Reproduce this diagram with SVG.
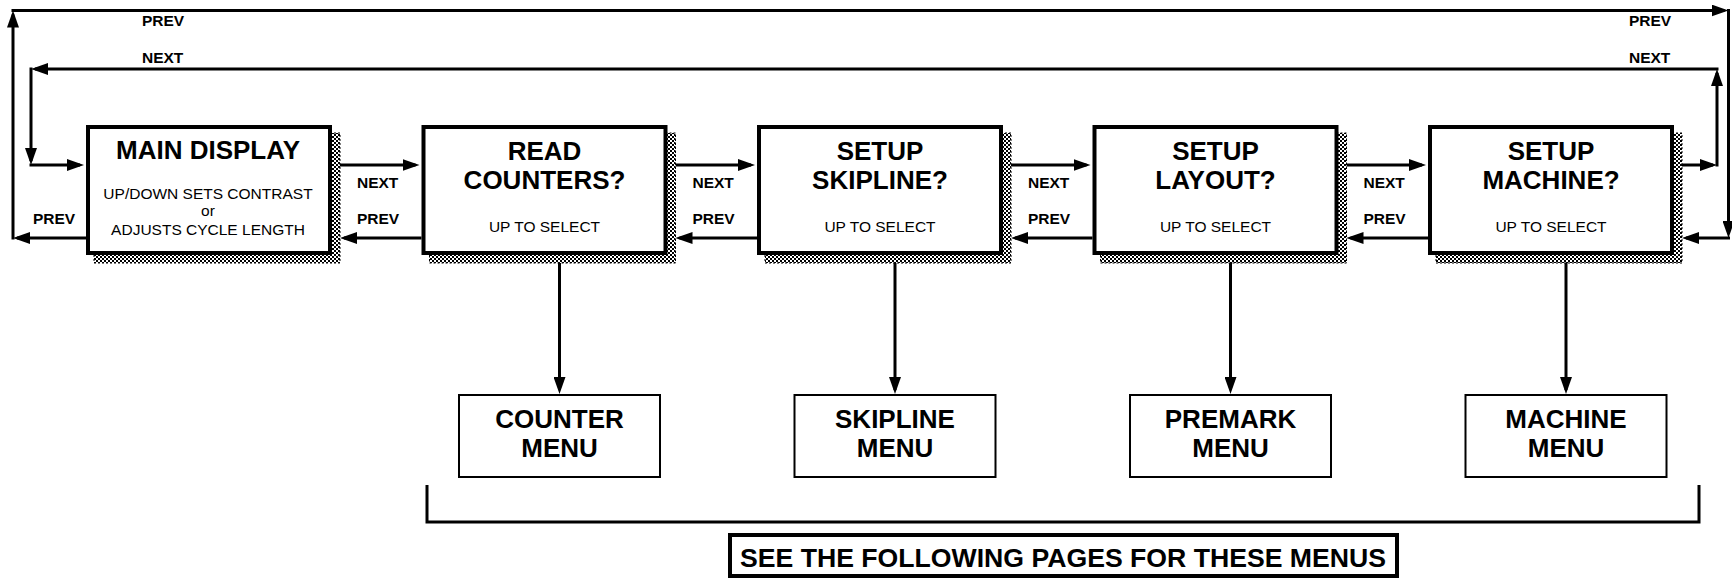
<svg xmlns="http://www.w3.org/2000/svg" xmlns:xlink="http://www.w3.org/1999/xlink" width="1732" height="579" viewBox="0 0 1732 579">
<style>
.bx{fill:#fff;stroke:#000;stroke-width:4}
.mn{fill:#fff;stroke:#000;stroke-width:2}
.sh{fill:url(#chk);stroke:#000;stroke-width:1;stroke-dasharray:2 2}
.ln{stroke:#000;stroke-width:3;fill:none;marker-end:url(#ah)}
.t{font-family:"Liberation Sans",Arial,sans-serif;font-weight:bold;font-size:26px;text-anchor:middle;fill:#000}
.s{font-family:"Liberation Sans",Arial,sans-serif;font-size:15.5px;text-anchor:middle;fill:#000}
.l{font-family:"Liberation Sans",Arial,sans-serif;font-weight:bold;font-size:15.5px;fill:#000}
</style>
<defs>
<pattern id="chk" patternUnits="userSpaceOnUse" width="4" height="4">
<rect width="4" height="4" fill="#fff"/>
<rect width="2" height="2" fill="#000"/>
<rect x="2" y="2" width="2" height="2" fill="#000"/>
</pattern>
<marker id="ah" markerUnits="userSpaceOnUse" viewBox="0 0 17 12" refX="13" refY="6" markerWidth="17" markerHeight="12" orient="auto">
<path d="M0,0 L17,6 L0,12 z" fill="#000"/>
</marker>
</defs>
<rect width="1732" height="579" fill="#fff"/>

<g id="connectors">
<!-- between boxes NEXT -->
<line class="ln" x1="340" y1="165" x2="415.5" y2="165"/>
<line class="ln" x1="675.5" y1="165" x2="751" y2="165"/>
<line class="ln" x1="1011" y1="165" x2="1086.5" y2="165"/>
<line class="ln" x1="1346.5" y1="165" x2="1422" y2="165"/>
<!-- between boxes PREV -->
<line class="ln" x1="421.5" y1="238" x2="344" y2="238"/>
<line class="ln" x1="757" y1="238" x2="679.5" y2="238"/>
<line class="ln" x1="1092.5" y1="238" x2="1015" y2="238"/>
<line class="ln" x1="1428" y1="238" x2="1350.5" y2="238"/>
<!-- PREV wrap loop -->
<line class="ln" x1="86" y1="238" x2="17" y2="238"/>
<line class="ln" x1="13" y1="239.5" x2="13" y2="14.5"/>
<line class="ln" x1="11.5" y1="10.5" x2="1724.5" y2="10.5"/>
<line class="ln" x1="1728.5" y1="9" x2="1728.5" y2="234"/>
<line class="ln" x1="1730" y1="238" x2="1686" y2="238"/>
<!-- NEXT wrap loop -->
<line class="ln" x1="1682" y1="165" x2="1713" y2="165"/>
<line class="ln" x1="1717" y1="166.5" x2="1717" y2="73"/>
<line class="ln" x1="1718.5" y1="69" x2="35" y2="69"/>
<line class="ln" x1="31" y1="67.5" x2="31" y2="161"/>
<line class="ln" x1="29.5" y1="165" x2="80" y2="165"/>
<!-- down arrows -->
<line class="ln" x1="559.5" y1="255" x2="559.5" y2="390"/>
<line class="ln" x1="895" y1="255" x2="895" y2="390"/>
<line class="ln" x1="1230.5" y1="255" x2="1230.5" y2="390"/>
<line class="ln" x1="1566" y1="255" x2="1566" y2="390"/>
<!-- bracket -->
<path d="M427,485 L427,522 L1699,522 L1699,485" fill="none" stroke="#000" stroke-width="3"/>
</g>

<g id="labels">
<text class="l" x="142" y="26">PREV</text>
<text class="l" x="142" y="63">NEXT</text>
<text class="l" x="1629" y="26">PREV</text>
<text class="l" x="1629" y="63">NEXT</text>
<text class="l" x="33" y="224">PREV</text>
<text class="l" x="357" y="188">NEXT</text>
<text class="l" x="357" y="224">PREV</text>
<text class="l" x="692.5" y="188">NEXT</text>
<text class="l" x="692.5" y="224">PREV</text>
<text class="l" x="1028" y="188">NEXT</text>
<text class="l" x="1028" y="224">PREV</text>
<text class="l" x="1363.5" y="188">NEXT</text>
<text class="l" x="1363.5" y="224">PREV</text>
</g>

<g id="main-display">
<rect class="sh" x="94" y="133" width="246" height="130"/>
<rect class="bx" x="88" y="127" width="242" height="126"/>
<text class="t" x="208" y="159">MAIN DISPLAY</text>
<text class="s" x="208" y="199">UP/DOWN SETS CONTRAST</text>
<text class="s" x="208" y="216">or</text>
<text class="s" x="208" y="235">ADJUSTS CYCLE LENGTH</text>
</g>

<g id="read-counters">
<rect class="sh" x="429.5" y="133" width="246" height="130"/>
<rect class="bx" x="423.5" y="127" width="242" height="126"/>
<text class="t" x="544.5" y="160">READ</text>
<text class="t" x="544.5" y="189">COUNTERS?</text>
<text class="s" x="544.5" y="232">UP TO SELECT</text>
</g>

<g id="setup-skipline">
<rect class="sh" x="765" y="133" width="246" height="130"/>
<rect class="bx" x="759" y="127" width="242" height="126"/>
<text class="t" x="880" y="160">SETUP</text>
<text class="t" x="880" y="189">SKIPLINE?</text>
<text class="s" x="880" y="232">UP TO SELECT</text>
</g>

<g id="setup-layout">
<rect class="sh" x="1100.5" y="133" width="246" height="130"/>
<rect class="bx" x="1094.5" y="127" width="242" height="126"/>
<text class="t" x="1215.5" y="160">SETUP</text>
<text class="t" x="1215.5" y="189">LAYOUT?</text>
<text class="s" x="1215.5" y="232">UP TO SELECT</text>
</g>

<g id="setup-machine">
<rect class="sh" x="1436" y="133" width="246" height="130"/>
<rect class="bx" x="1430" y="127" width="242" height="126"/>
<text class="t" x="1551" y="160">SETUP</text>
<text class="t" x="1551" y="189">MACHINE?</text>
<text class="s" x="1551" y="232">UP TO SELECT</text>
</g>

<g id="counter-menu">
<rect class="mn" x="459" y="395" width="201" height="82"/>
<text class="t" x="559.5" y="428">COUNTER</text>
<text class="t" x="559.5" y="457">MENU</text>
</g>

<g id="skipline-menu">
<rect class="mn" x="794.5" y="395" width="201" height="82"/>
<text class="t" x="895" y="428">SKIPLINE</text>
<text class="t" x="895" y="457">MENU</text>
</g>

<g id="premark-menu">
<rect class="mn" x="1130" y="395" width="201" height="82"/>
<text class="t" x="1230.5" y="428">PREMARK</text>
<text class="t" x="1230.5" y="457">MENU</text>
</g>

<g id="machine-menu">
<rect class="mn" x="1465.5" y="395" width="201" height="82"/>
<text class="t" x="1566" y="428">MACHINE</text>
<text class="t" x="1566" y="457">MENU</text>
</g>

<g id="note">
<rect x="730" y="535" width="667" height="41" fill="#fff" stroke="#000" stroke-width="4"/>
<text class="t" x="1063" y="567" textLength="646" lengthAdjust="spacingAndGlyphs">SEE THE FOLLOWING PAGES FOR THESE MENUS</text>
</g>
</svg>
